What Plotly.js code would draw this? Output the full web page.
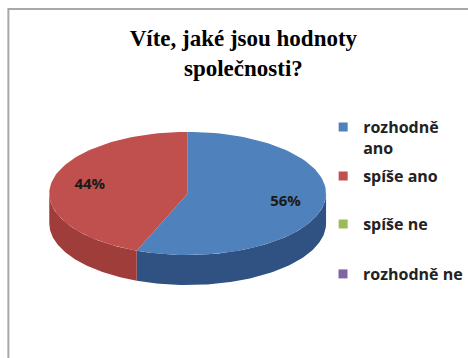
<!DOCTYPE html>
<html>
<head>
<meta charset="utf-8">
<script src="https://cdn.plot.ly/plotly-3.0.1.min.js"></script>
<style>html,body{margin:0;padding:0;background:#fff;}#chart{width:468px;height:358px;}</style>
</head>
<body>
<div id="chart"></div>
<script>
// ---- data ----
const categories = ['rozhodně ano', 'spíše ano', 'spíše ne', 'rozhodně ne'];
const values = [56, 44, 0, 0];
const legendLabels = ['rozhodně<br>ano', 'spíše ano', 'spíše ne', 'rozhodně ne'];
const topColors = ['#4F81BD', '#C0504D', '#9BBB59', '#8064A2'];
const sideColors = ['#2F5282', '#9E3D3A', '#71893F', '#5C4878'];

// ---- geometry of the tilted pie (in axis units, rx = 1) ----
const RY = 0.438;      // vertical squash of the top face
const THICK = 0.2135;  // depth of the side
const N = 90;

function rimPoint(t, dy) { // t: radians, clockwise from 12 o'clock
  return [Math.sin(t), RY * Math.cos(t) - (dy || 0)];
}
function arc(t0, t1, dy) {
  const pts = [];
  for (let k = 0; k <= N; k++) {
    const t = t0 + (t1 - t0) * k / N;
    pts.push(rimPoint(t, dy));
  }
  return pts;
}

const total = values.reduce((a, b) => a + b, 0);
const traces = [];
const sideTraces = [];
const faceTraces = [];
const labelX = [], labelY = [], labelT = [];
let cum = 0;
values.forEach((v, i) => {
  const a0 = cum / total * 2 * Math.PI;
  cum += v;
  const a1 = cum / total * 2 * Math.PI;
  if (v <= 0) return;
  // side: only the front half (between 3 and 9 o'clock) is visible
  const s0 = Math.max(a0, Math.PI / 2), s1 = Math.min(a1, 3 * Math.PI / 2);
  if (s1 > s0) {
    const top = arc(s0, s1, 0);
    const bot = arc(s1, s0, THICK);
    const pts = top.concat(bot);
    pts.push(top[0]);
    sideTraces.push({
      type: 'scatter', mode: 'lines', x: pts.map(p => p[0]), y: pts.map(p => p[1]),
      fill: 'toself', fillcolor: sideColors[i], line: {width: 0, color: sideColors[i]},
      hoverinfo: 'skip', showlegend: false
    });
  }
  // top face
  const pts = [[0, 0]].concat(arc(a0, a1, 0));
  pts.push([0, 0]);
  faceTraces.push({
    type: 'scatter', mode: 'lines', x: pts.map(p => p[0]), y: pts.map(p => p[1]),
    fill: 'toself', fillcolor: topColors[i], line: {width: 0, color: topColors[i]},
    hoverinfo: 'skip', showlegend: false
  });
  const mid = (a0 + a1) / 2;
  const lp = rimPoint(mid, 0);
  labelX.push(lp[0] * 0.72);
  labelY.push(lp[1] * 0.72);
  labelT.push(Math.round(v / total * 100) + '%');
});

traces.push(...sideTraces, ...faceTraces);
traces.push({
  type: 'scatter', mode: 'text', x: labelX, y: labelY, text: labelT,
  textfont: {family: 'Open Sans, sans-serif', size: 15, color: '#1a1a1a', weight: 'bold'},
  hoverinfo: 'skip', showlegend: false
});
const legendIds = ['legend', 'legend2', 'legend3', 'legend4'];
categories.forEach((c, i) => {
  traces.push({
    type: 'scatter', mode: 'markers', x: [null], y: [null], name: legendLabels[i],
    legend: legendIds[i],
    marker: {symbol: 'square', size: 9, color: topColors[i]}, hoverinfo: 'skip'
  });
});

const legendFont = {family: 'Open Sans, sans-serif', size: 16, color: '#222', weight: 'bold'};
const legendX = 0.701;
function legendAt(py, anchor) {
  return {
    x: legendX, xanchor: 'left', y: 1 - py / 358, yanchor: anchor,
    valign: 'top', font: legendFont, bgcolor: 'rgba(0,0,0,0)'
  };
}

const layout = {
  width: 468, height: 358,
  margin: {l: 0, r: 0, t: 0, b: 0},
  paper_bgcolor: '#ffffff', plot_bgcolor: '#ffffff',
  title: {
    text: '<b>Víte, jaké jsou hodnoty<br>společnosti?</b>',
    font: {family: 'Liberation Serif, Times New Roman, serif', size: 23, color: '#000'},
    x: 0.52, xanchor: 'center', y: 0.872, yanchor: 'top', yref: 'container'
  },
  xaxis: {range: [-1.356, 1.975], visible: false, fixedrange: true},
  yaxis: {range: [-1.171, 1.377], visible: false, fixedrange: true},
  showlegend: true,
  legend: legendAt(110, 'top'),
  legend2: legendAt(176, 'middle'),
  legend3: legendAt(224, 'middle'),
  legend4: legendAt(274, 'middle'),
  shapes: [{
    type: 'rect', xref: 'paper', yref: 'paper',
    x0: 8.5 / 468, x1: 1.05, y0: -0.05, y1: 1 - 9 / 358,
    line: {color: '#A8A8A8', width: 2}, fillcolor: 'rgba(0,0,0,0)', layer: 'below'
  }]
};

Plotly.newPlot('chart', traces, layout, {displayModeBar: false, staticPlot: true});
</script>
</body>
</html>
